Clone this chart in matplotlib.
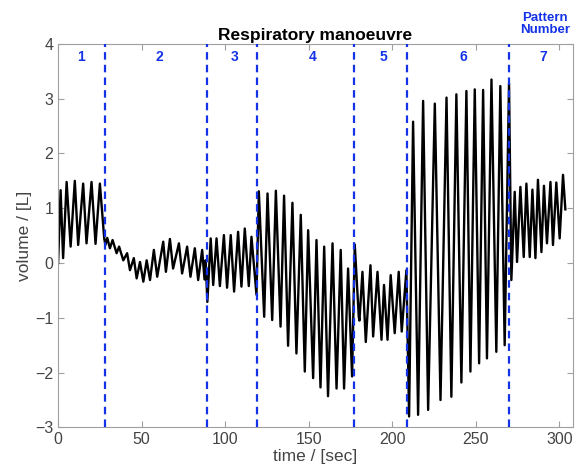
import numpy as np
import matplotlib
matplotlib.use("Agg")
import matplotlib.pyplot as plt

plt.rcParams["font.family"] = ["Liberation Sans", "DejaVu Sans"]

# ------------------------------------------------------------
# Data: breath extrema (time in s, volume in L)
# ------------------------------------------------------------

t_p1 = [0, 1.5, 3.0, 5.1, 7.5, 10, 12, 15, 17, 20, 22.4, 25, 27.6]
v_p1 = [0.0, 1.33, 0.09, 1.48, 0.30, 1.50, 0.33, 1.45, 0.36, 1.48, 0.35, 1.45, 0.45]

t_p2 = [28.3, 29.4, 31, 32.6, 35, 36.5, 39, 41.3, 43, 45.3, 47, 49, 51, 53, 55,
        57.3, 59.3, 62.9, 64.5, 66.9, 68.8, 72.3, 74.2, 77.2, 79.2, 81.8, 83.8,
        86.2, 87.6, 88.3, 89.3]
v_p2 = [0.33, 0.46, 0.27, 0.42, 0.18, 0.30, 0.05, 0.18, -0.13, 0.09, -0.28, 0.02,
        -0.34, 0.05, -0.31, 0.24, -0.25, 0.39, -0.16, 0.44, -0.10, 0.36, -0.19,
        0.30, -0.25, 0.27, -0.31, 0.24, -0.30, 0.05, -0.71]

t_p3 = [91.3, 92.8, 94.8, 96.8, 99.2, 101.1, 103.3, 105.3, 107.7, 109.7, 111.7,
        114.1, 115.7, 118.7]
v_p3 = [0.45, -0.40, 0.45, -0.42, 0.51, -0.45, 0.51, -0.52, 0.57, -0.43, 0.63,
        -0.42, 0.48, -0.58]

t_p4 = [120.1, 123.3, 125.3, 128.1, 130.3, 133.1, 135.2, 137.6, 140.2, 142.6,
        145.2, 147.6, 149.6, 152.6, 154.6, 157, 159.2, 161.5, 164.2, 166.6,
        169.1, 171.1, 173.5, 175.9]
v_p4 = [1.31, -0.98, 1.27, -1.04, 1.32, -1.16, 1.23, -1.51, 1.10, -1.65, 0.88,
        -1.98, 0.60, -2.10, 0.42, -2.27, 0.30, -2.43, 0.36, -2.29, 0.24, -2.29,
        -0.10, -2.07]

t_p5 = [177.5, 179.9, 180.3, 182.1, 184.1, 186.9, 188.5, 191.1, 193.5, 195.0,
        197.1, 199.0, 201.4, 203.8, 205.6, 208.4]
v_p5 = [0.34, -0.98, -1.05, -0.16, -1.44, -0.04, -1.34, -0.16, -1.40, -0.40,
        -1.40, -0.22, -1.28, -0.16, -1.25, -0.13]

t_p6 = [210, 212.4, 215.4, 218.4, 221.4, 225.4, 228.8, 232.4, 235.3, 238.3,
        241.3, 244.3, 246.7, 249.3, 251.9, 254.3, 256.6, 259.3, 262.2, 264.6,
        267.2, 269.8]
v_p6 = [-2.80, 2.58, -2.77, 2.96, -2.68, 2.91, -2.50, 3.02, -2.44, 3.08, -2.18,
        3.14, -1.98, 3.17, -1.83, 3.16, -1.74, 3.35, -1.62, 3.23, -1.50, 3.28]

t_p7 = [271.2, 273.2, 274.6, 276.6, 278.6, 280.2, 282.2, 283.8, 285.6, 287.1,
        289.2, 290.7, 292.5, 294.6, 296.1, 298.1, 300.1, 302.1, 303.5]
v_p7 = [-0.31, 1.30, 0.02, 1.39, 0.11, 1.45, 0.11, 1.34, 0.09, 1.52, 0.20, 1.41,
        0.36, 1.48, 0.33, 1.47, 0.45, 1.61, 0.98]

boundaries = [28, 89, 119, 177, 209, 270]
pattern_labels = ["1", "2", "3", "4", "5", "6", "7"]
label_pos = [14, 60.7, 105.3, 152.2, 194.4, 242.5, 290.4]

# ------------------------------------------------------------
# Plot
# ------------------------------------------------------------

BLUE = "#1533e6"
GRAY_TXT = "#444444"
GRAY_AX = "#a0a0a0"

t = np.concatenate([t_p1, t_p2, t_p3, t_p4, t_p5, t_p6, t_p7])
v = np.concatenate([v_p1, v_p2, v_p3, v_p4, v_p5, v_p6, v_p7])

fig = plt.figure(figsize=(5.81, 4.70), dpi=100)
ax = fig.add_axes([0.100, 0.0906, 0.886, 0.816])

ax.plot(t, v, color="black", linewidth=1.7, solid_joinstyle="round", zorder=2)

for b in boundaries:
    ax.axvline(b, color=BLUE, linewidth=1.6, linestyle=(0, (3.4, 2.3)), zorder=3)

for lab, x in zip(pattern_labels, label_pos):
    ax.text(x, 3.76, lab, color=BLUE, fontsize=10, fontweight="bold",
            ha="center", va="center")

ax.text(291.4, 4.36, "Pattern\nNumber", color=BLUE, fontsize=9.5,
        fontweight="bold", ha="center", va="center", linespacing=1.0,
        clip_on=False)

ax.set_xlim(0, 308)
ax.set_ylim(-3, 4)
ax.set_xticks(range(0, 301, 50))
ax.set_yticks(range(-3, 5))

ax.tick_params(direction="in", top=True, right=True, length=4,
               color=GRAY_AX, labelcolor=GRAY_TXT, labelsize=11.5)
for s in ax.spines.values():
    s.set_color(GRAY_AX)
    s.set_linewidth(0.8)

ax.set_xlabel("time / [sec]", color=GRAY_TXT, fontsize=12.5, labelpad=1)
ax.set_ylabel("volume / [L]", color=GRAY_TXT, fontsize=12.5, labelpad=2)
ax.set_title("Respiratory manoeuvre", fontsize=12.5, fontweight="bold", pad=3)

fig.savefig("out.png", dpi=100)
plt.close(fig)
